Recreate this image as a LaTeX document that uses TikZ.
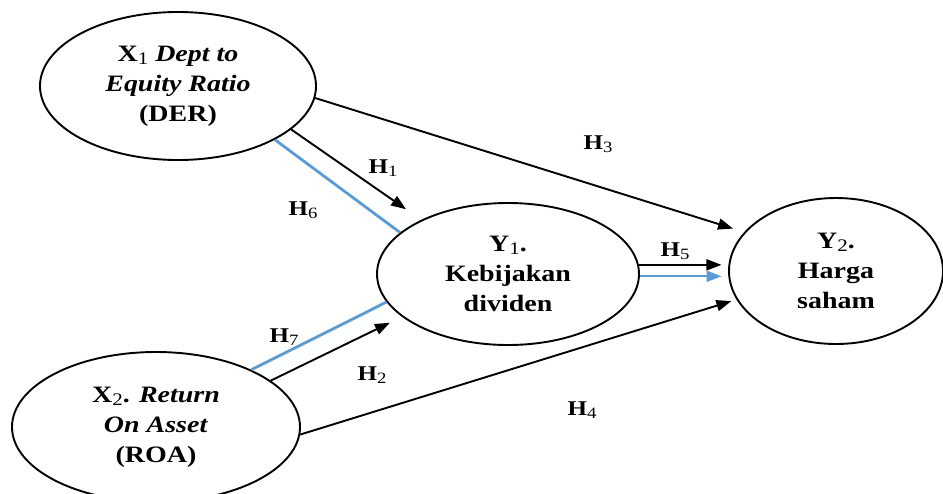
\documentclass[tikz,border=0pt]{standalone}
\usepackage{fontspec}
\setmainfont{Liberation Serif}[FakeStretch=1.19]
\usetikzlibrary{shapes.geometric,arrows.meta}
\definecolor{linkblue}{RGB}{91,155,213}
\newcommand{\sub}[1]{\raisebox{-0.3ex}{\scalebox{0.75}{\mdseries #1}}}

\begin{document}
\begin{tikzpicture}[x=1pt, y=-1pt,
	var/.style={ellipse, draw, line width=1.9pt, inner sep=0pt, align=center, font=\fontsize{23.5}{30}\selectfont\bfseries},
	hlab/.style={font=\fontsize{21}{24}\selectfont\bfseries},
	arr/.style={line width=1.9pt, -{Triangle[length=15pt, width=11pt]}},
	link/.style={line width=2.8pt, linkblue}]
	\useasboundingbox (0,0) rectangle (943,493);
	\node[var, minimum width=276pt, minimum height=148pt] (x1) at (178,86) {X\sub{1} \textit{Dept to}\\ \textit{Equity Ratio}\\ (DER)};
	\node[var, minimum width=288pt, minimum height=150pt] (x2) at (156,427) {X\sub{2}. \textit{Return}\\ \textit{On Asset}\\ (ROA)};
	\node[var, minimum width=262pt, minimum height=142pt] (y1) at (508,274) {Y\sub{1}.\\ Kebijakan\\ dividen};
	\node[var, minimum width=214pt, minimum height=146pt] (y2) at (836,271) {Y\sub{2}.\\ Harga\\ saham};
	\draw[arr, shorten >=18.5pt] (x1.-21.5) -- (y1.148);
	\draw[link] (x1.-29.4) -- (y1.159.2);
	\draw[arr, shorten >=11.7pt] (x1.-5.1) -- (y2.157.8);
	\draw[arr, shorten >=6.6pt] (y1.4.7) -- (y1.4.7 -| y2.west);
	\draw[arr, linkblue, shorten >=6.5pt] (y1.-1.7) -- (y1.-1.7 -| y2.west);
	\draw[arr, shorten >=5.3pt] (x2.-3.2) -- (y2.196.7);
	\draw[arr, shorten >=13.4pt] (x2.22.3) -- (y1.202.6);
	\draw[link] (x2.31.8) -- (y1.193.1);
	\node[hlab] (h1) at (383,168) {H\sub{1}};
	\node[hlab] (h2) at (372,375) {H\sub{2}};
	\node[hlab] (h3) at (598,144) {H\sub{3}};
	\node[hlab] (h4) at (582,410) {H\sub{4}};
	\node[hlab] (h5) at (675,251) {H\sub{5}};
	\node[hlab] (h6) at (303,210) {H\sub{6}};
	\node[hlab] (h7) at (284,337) {H\sub{7}};
\end{tikzpicture}
\end{document}
